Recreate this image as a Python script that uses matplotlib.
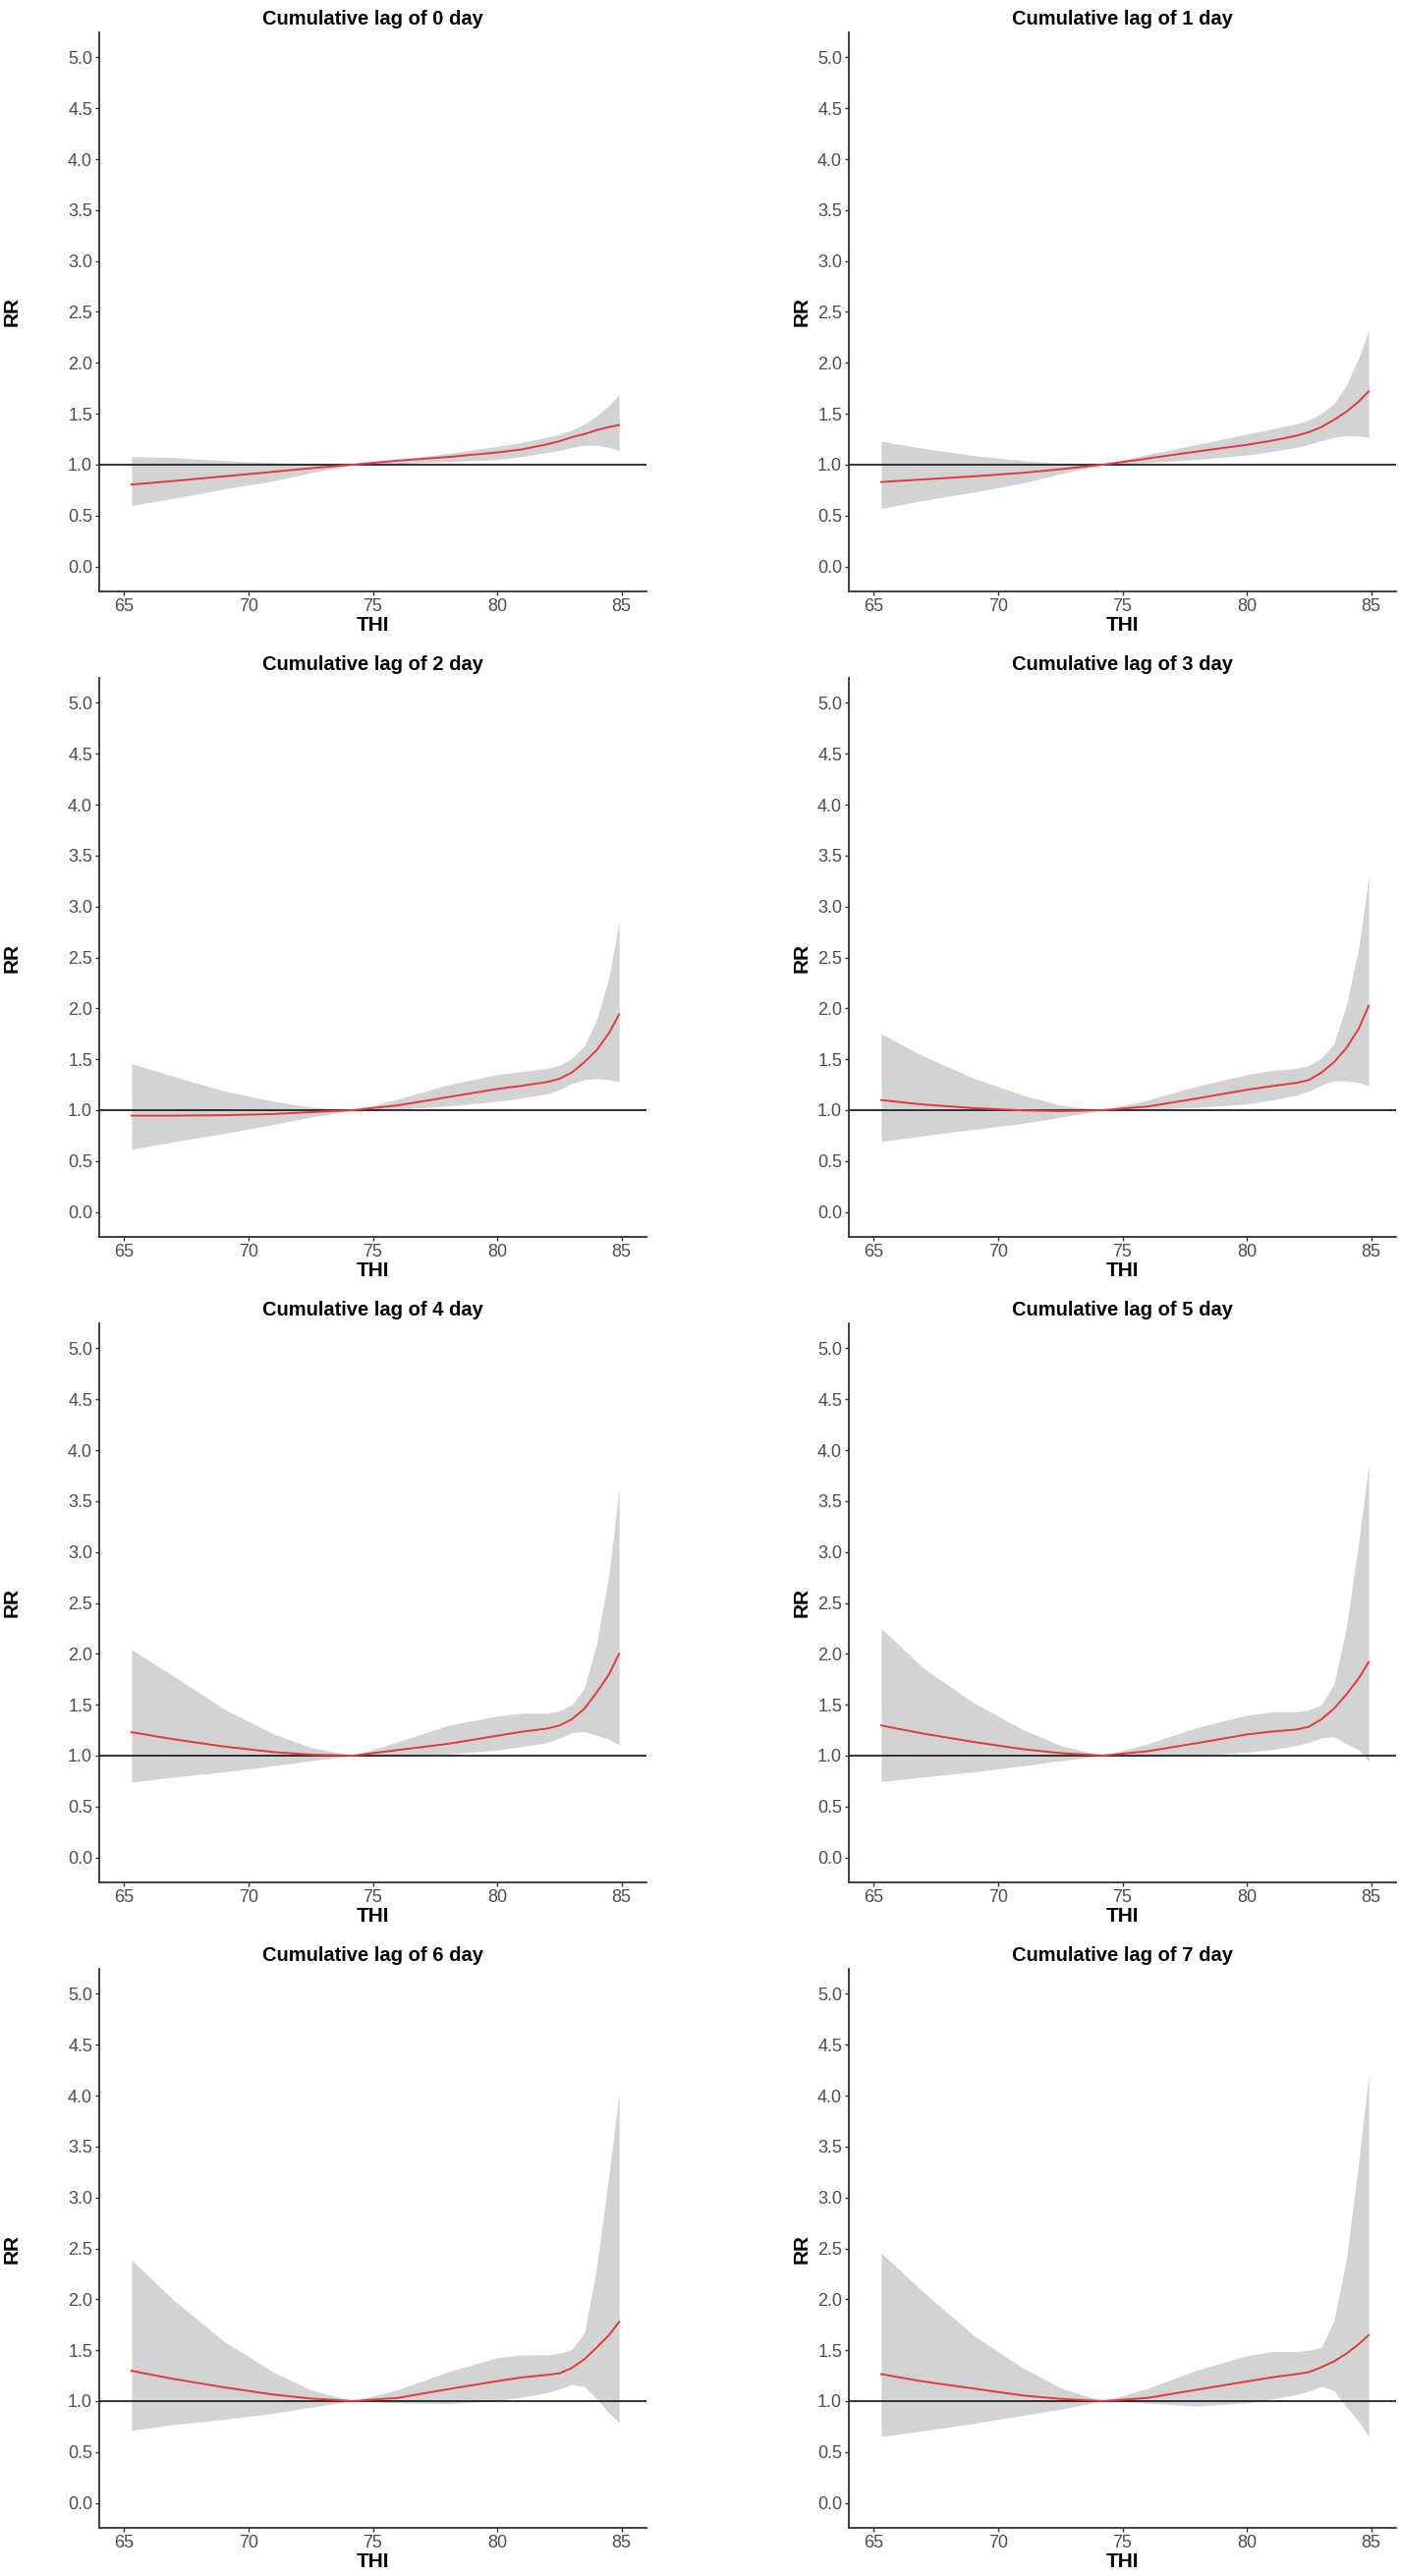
import matplotlib
matplotlib.use("Agg")
import matplotlib.pyplot as plt
import numpy as np

plt.rcParams['font.family'] = ['Liberation Sans', 'DejaVu Sans']

thi = [65.3, 67, 69, 71, 72.5, 74.2, 76, 78, 80, 81, 82, 82.5, 83, 83.5, 84, 84.5, 84.9]

titles = ["Cumulative lag of %d day" % i for i in range(8)]

rr = [
    [0.805, 0.84, 0.885, 0.93, 0.965, 1.0, 1.04, 1.075, 1.12, 1.15, 1.2, 1.23, 1.27, 1.30, 1.34, 1.37, 1.39],
    [0.83, 0.855, 0.885, 0.92, 0.955, 1.0, 1.06, 1.13, 1.195, 1.235, 1.285, 1.32, 1.37, 1.44, 1.52, 1.62, 1.72],
    [0.946, 0.946, 0.95, 0.962, 0.98, 1.0, 1.047, 1.127, 1.208, 1.24, 1.276, 1.308, 1.37, 1.47, 1.59, 1.76, 1.94],
    [1.099, 1.055, 1.02, 0.998, 0.99, 1.0, 1.035, 1.115, 1.2, 1.236, 1.268, 1.296, 1.369, 1.47, 1.61, 1.80, 2.025],
    [1.23, 1.16, 1.09, 1.035, 1.01, 1.0, 1.055, 1.115, 1.195, 1.235, 1.265, 1.296, 1.357, 1.46, 1.62, 1.80, 2.0],
    [1.296, 1.216, 1.135, 1.063, 1.025, 1.0, 1.043, 1.123, 1.208, 1.236, 1.256, 1.284, 1.357, 1.46, 1.60, 1.76, 1.92],
    [1.297, 1.217, 1.136, 1.064, 1.025, 1.0, 1.031, 1.116, 1.196, 1.233, 1.257, 1.273, 1.325, 1.41, 1.527, 1.65, 1.777],
    [1.265, 1.192, 1.124, 1.055, 1.022, 1.0, 1.031, 1.112, 1.193, 1.233, 1.265, 1.285, 1.333, 1.39, 1.466, 1.56, 1.648],
]

rr_low = [
    [0.60, 0.67, 0.76, 0.84, 0.92, 1.0, 1.01, 1.03, 1.05, 1.08, 1.12, 1.14, 1.17, 1.19, 1.19, 1.17, 1.14],
    [0.57, 0.65, 0.73, 0.82, 0.91, 1.0, 1.02, 1.05, 1.095, 1.13, 1.17, 1.20, 1.235, 1.27, 1.285, 1.28, 1.27],
    [0.616, 0.69, 0.77, 0.86, 0.93, 1.0, 1.01, 1.04, 1.087, 1.12, 1.16, 1.20, 1.26, 1.30, 1.31, 1.30, 1.28],
    [0.69, 0.75, 0.81, 0.87, 0.93, 1.0, 1.005, 1.027, 1.06, 1.10, 1.147, 1.19, 1.248, 1.288, 1.285, 1.27, 1.24],
    [0.74, 0.79, 0.84, 0.90, 0.95, 1.0, 1.0, 1.015, 1.055, 1.09, 1.127, 1.17, 1.224, 1.236, 1.20, 1.16, 1.107],
    [0.745, 0.79, 0.84, 0.90, 0.95, 1.0, 1.0, 1.0, 1.035, 1.06, 1.10, 1.13, 1.175, 1.187, 1.115, 1.055, 0.94],
    [0.713, 0.77, 0.82, 0.88, 0.94, 1.0, 0.983, 0.975, 1.003, 1.04, 1.083, 1.12, 1.164, 1.144, 1.023, 0.88, 0.79],
    [0.653, 0.71, 0.78, 0.86, 0.92, 1.0, 0.983, 0.95, 0.983, 1.02, 1.064, 1.10, 1.144, 1.104, 0.943, 0.80, 0.653],
]

rr_high = [
    [1.08, 1.07, 1.04, 1.02, 1.01, 1.0, 1.05, 1.11, 1.18, 1.22, 1.27, 1.30, 1.34, 1.40, 1.48, 1.58, 1.69],
    [1.23, 1.16, 1.09, 1.04, 1.015, 1.0, 1.10, 1.20, 1.30, 1.35, 1.40, 1.44, 1.50, 1.60, 1.78, 2.05, 2.32],
    [1.457, 1.33, 1.19, 1.087, 1.03, 1.0, 1.107, 1.248, 1.349, 1.38, 1.41, 1.44, 1.51, 1.63, 1.89, 2.31, 2.85],
    [1.75, 1.53, 1.316, 1.147, 1.05, 1.0, 1.099, 1.236, 1.349, 1.389, 1.41, 1.44, 1.51, 1.65, 2.03, 2.60, 3.30],
    [2.04, 1.78, 1.46, 1.215, 1.08, 1.0, 1.135, 1.296, 1.39, 1.417, 1.417, 1.44, 1.50, 1.66, 2.10, 2.79, 3.63],
    [2.25, 1.86, 1.52, 1.256, 1.10, 1.0, 1.115, 1.276, 1.397, 1.43, 1.43, 1.45, 1.50, 1.70, 2.26, 3.11, 3.86],
    [2.385, 1.99, 1.59, 1.285, 1.11, 1.0, 1.112, 1.285, 1.426, 1.454, 1.454, 1.47, 1.507, 1.668, 2.313, 3.24, 4.025],
    [2.454, 2.07, 1.648, 1.325, 1.13, 1.0, 1.124, 1.305, 1.446, 1.486, 1.486, 1.50, 1.527, 1.79, 2.394, 3.36, 4.206],
]

x_ticks = [65, 70, 75, 80, 85]
y_ticks = [0.0, 0.5, 1.0, 1.5, 2.0, 2.5, 3.0, 3.5, 4.0, 4.5, 5.0]

W, H = 1426, 2622
fig = plt.figure(figsize=(W / 100, H / 100), dpi=100)

col_left = [101, 864]
ax_w = 557
row_top = 33
row_step = 657
ax_h = 569

axis_col = '#333333'
tick_col = '#4d4d4d'

for i in range(8):
    r, c = divmod(i, 2)
    left = col_left[c]
    top = row_top + r * row_step
    ax = fig.add_axes([left / W, 1 - (top + ax_h) / H, ax_w / W, ax_h / H])
    ax.fill_between(thi, rr_low[i], rr_high[i], color='#d3d3d3', linewidth=0, zorder=1)
    ax.axhline(1.0, color='#222222', linewidth=1.3, zorder=2)
    ax.plot(thi, rr[i], color='#e23b3b', linewidth=1.4, zorder=3)
    ax.set_xlim(64, 86)
    ax.set_ylim(-0.245, 5.245)
    ax.set_xticks(x_ticks)
    ax.set_yticks(y_ticks)
    ax.set_yticklabels(["%.1f" % v for v in y_ticks])
    for s in ['top', 'right']:
        ax.spines[s].set_visible(False)
    for s in ['left', 'bottom']:
        ax.spines[s].set_color(axis_col)
        ax.spines[s].set_linewidth(1.3)
    ax.tick_params(axis='both', direction='out', length=3, width=1.0,
                   color=axis_col, labelcolor=tick_col, labelsize=13, pad=2)
    ax.set_title(titles[i], fontsize=14.5, fontweight='bold', pad=6, color='black')
    ax.set_xlabel('THI', fontsize=15, fontweight='bold', labelpad=1)
    ax.set_ylabel('RR', fontsize=15, fontweight='bold')
    if c == 0:
        ax.yaxis.set_label_coords(-0.142, 0.5)
    else:
        ax.yaxis.set_label_coords(-0.068, 0.5)
    ax.set_facecolor('white')

fig.savefig('out.png', dpi=100, facecolor='white')
